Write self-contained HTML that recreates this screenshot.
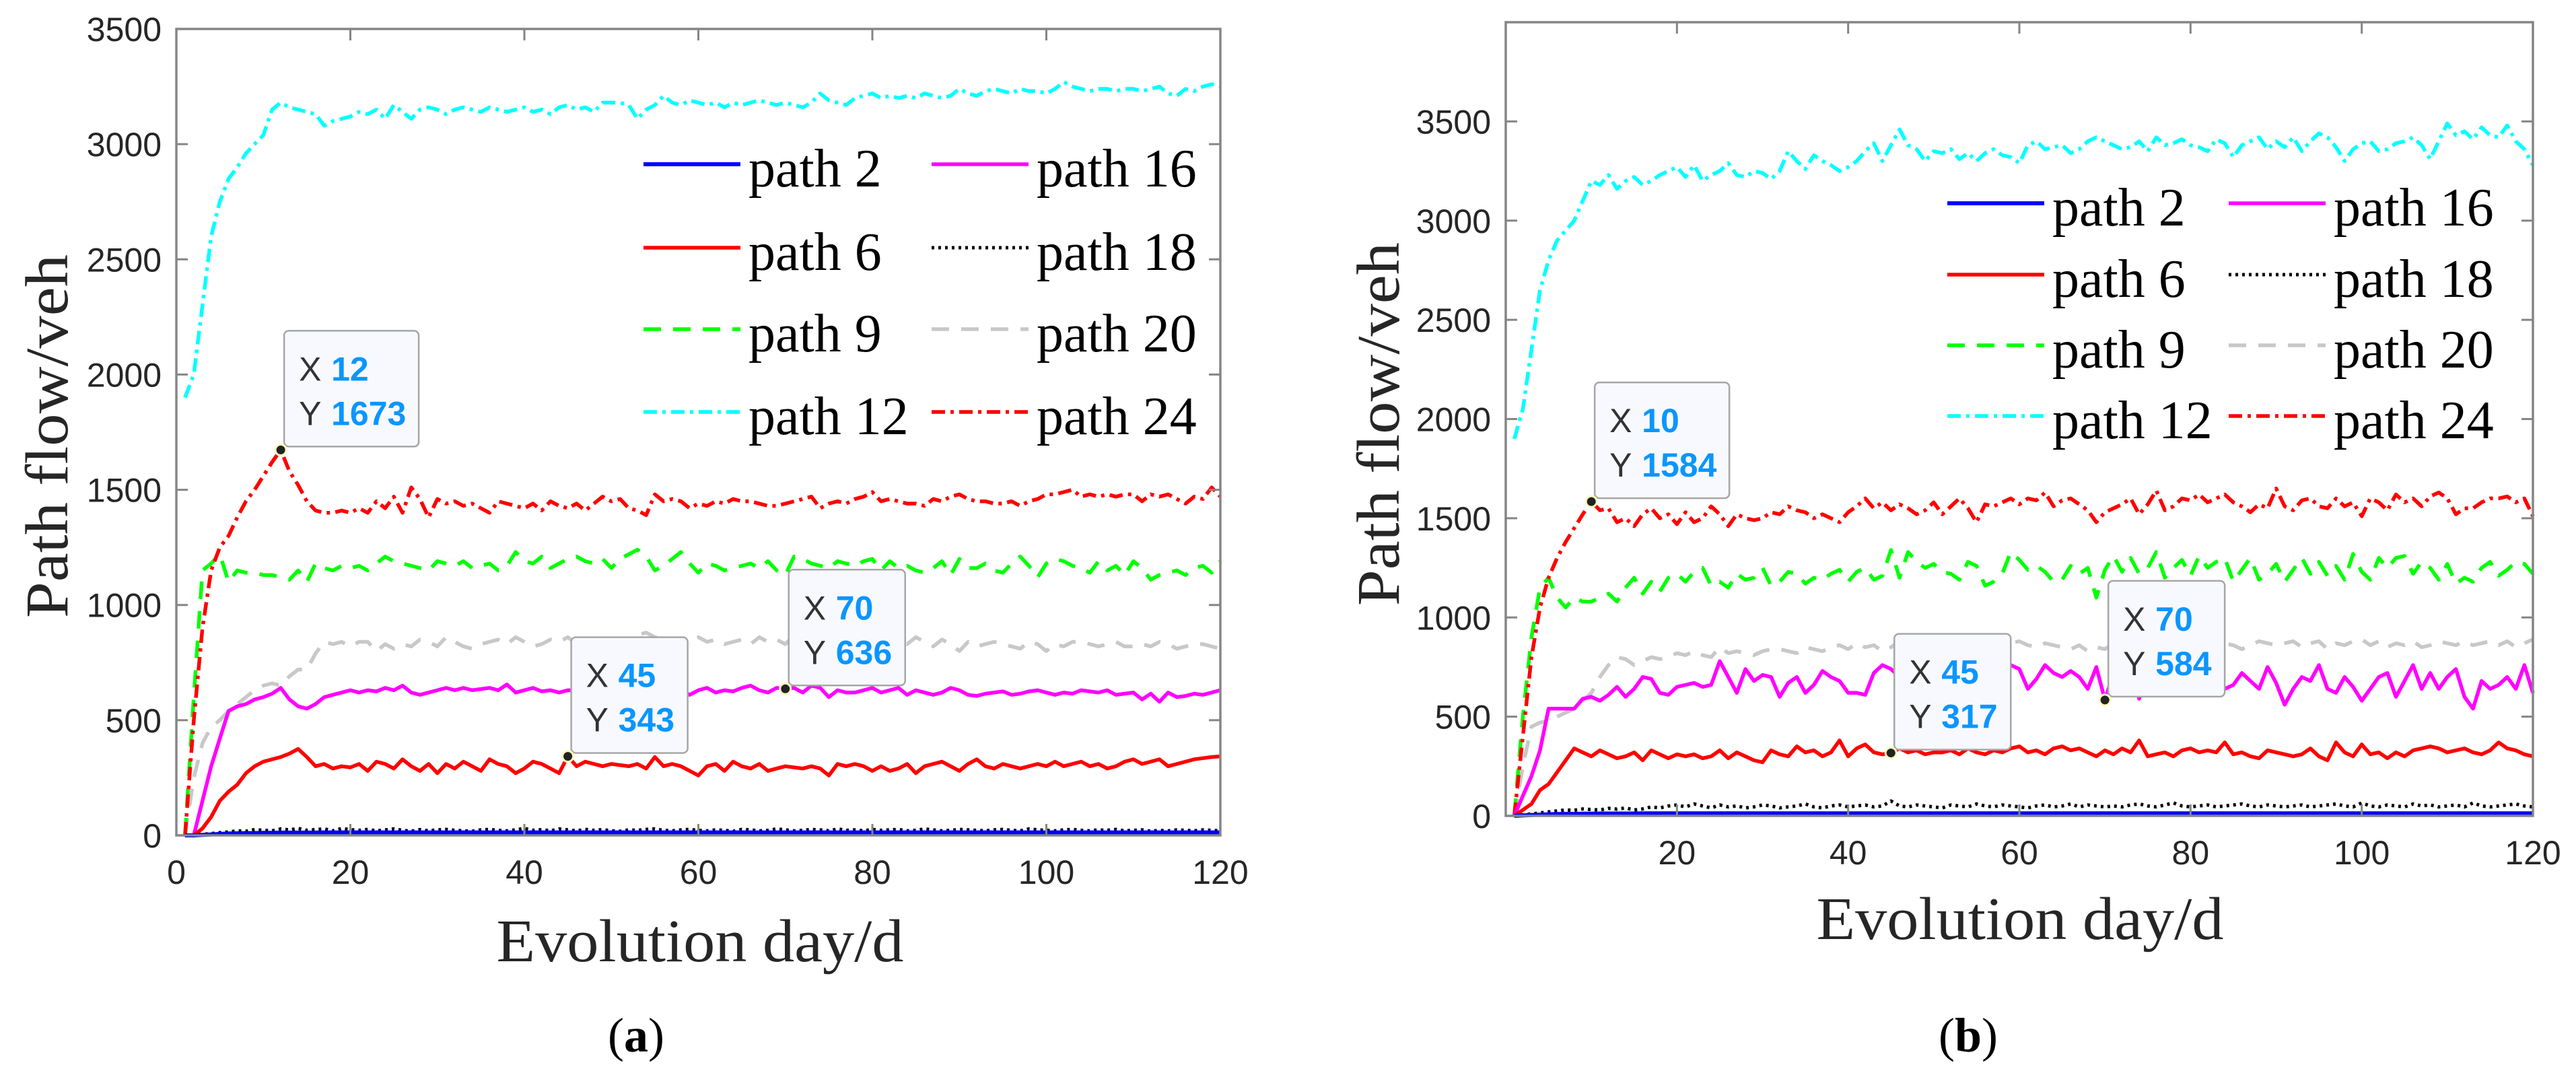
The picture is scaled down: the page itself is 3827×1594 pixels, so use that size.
<!DOCTYPE html>
<html><head><meta charset="utf-8">
<style>
html,body{margin:0;padding:0;background:#fff;}
svg{display:block;}
.tick{font-family:"Liberation Sans",sans-serif;font-size:50px;fill:#262626;}
.title{font-family:"Liberation Serif",serif;font-size:90px;fill:#262626;}
.leg{font-family:"Liberation Serif",serif;font-size:80px;fill:#000;}
.dtx{font-family:"Liberation Sans",sans-serif;font-size:50px;fill:#333;}
.dtv{font-family:"Liberation Sans",sans-serif;font-size:50px;font-weight:bold;fill:#0A96FF;}
.cap{font-family:"Liberation Serif",serif;font-size:72px;fill:#000;}
</style></head>
<body>
<svg id="fig" width="3827" height="1594" viewBox="0 0 3827 1594" xmlns="http://www.w3.org/2000/svg"></svg>
<script>
// ---------- data: chart (a) ----------
const daysCount = 120;
const xTicksA = [0,20,40,60,80,100,120];
const yTicksA = [0,500,1000,1500,2000,2500,3000,3500];
const xTicksB = [20,40,60,80,100,120];
const yTicksB = [0,500,1000,1500,2000,2500,3000,3500];
const seriesNames = ["path 2","path 6","path 9","path 12","path 16","path 18","path 20","path 24"];

const a_p12 = [1900,2000,2300,2600,2750,2850,2900,2960,3000,3040,3150,3180,3160,3150,3140,3130,3080,3100,3110,3120,
3140,3130,3150,3110,3170,3140,3110,3150,3160,3150,3130,3150,3160,3150,3140,3160,3150,3140,3150,3160,
3140,3150,3130,3160,3170,3150,3160,3140,3180,3180,3180,3170,3110,3150,3170,3210,3180,3170,3190,3180,
3170,3180,3160,3180,3170,3180,3190,3180,3170,3180,3170,3160,3180,3220,3190,3180,3170,3200,3210,3220,
3200,3210,3200,3210,3200,3220,3210,3200,3210,3240,3220,3210,3230,3240,3230,3220,3240,3230,3230,3220,
3240,3270,3250,3240,3230,3240,3240,3230,3240,3240,3230,3240,3250,3220,3210,3240,3230,3250,3260,3250];
const a_p24 = [0,500,900,1150,1250,1300,1380,1450,1500,1560,1620,1673,1580,1520,1450,1410,1400,1400,1410,1400,
1420,1400,1450,1420,1470,1400,1510,1460,1380,1460,1440,1450,1430,1440,1420,1400,1450,1440,1430,1420,
1440,1410,1450,1430,1420,1440,1410,1440,1470,1450,1460,1420,1410,1390,1480,1450,1460,1450,1420,1440,
1430,1450,1440,1460,1450,1450,1440,1430,1430,1440,1450,1460,1470,1420,1440,1450,1440,1460,1470,1490,
1450,1460,1450,1440,1440,1430,1460,1450,1470,1480,1460,1450,1450,1440,1440,1450,1430,1450,1460,1480,
1480,1490,1500,1470,1480,1470,1480,1470,1480,1480,1450,1480,1470,1480,1460,1440,1470,1460,1510,1470];
const a_p9 = [0,600,1150,1180,1220,1100,1150,1140,1140,1130,1130,1120,1110,1150,1100,1180,1160,1150,1170,1160,
1170,1150,1180,1210,1190,1180,1170,1160,1150,1190,1180,1170,1190,1160,1170,1180,1150,1170,1230,1190,
1180,1210,1160,1180,1200,1210,1190,1180,1200,1160,1200,1220,1240,1210,1150,1170,1200,1230,1180,1140,
1180,1170,1150,1160,1170,1180,1160,1190,1150,1130,1210,1200,1180,1170,1160,1190,1180,1170,1190,1200,
1150,1190,1160,1170,1150,1140,1160,1190,1130,1200,1160,1160,1180,1150,1140,1180,1210,1170,1120,1180,
1200,1190,1170,1160,1140,1190,1150,1170,1130,1190,1160,1110,1130,1140,1150,1130,1160,1170,1140,1190];
const a_p20 = [0,250,400,470,500,540,570,600,630,650,660,650,690,720,720,790,840,830,840,820,
840,840,800,830,810,830,820,850,840,820,860,840,820,810,830,840,850,830,860,840,
820,830,850,840,860,830,850,840,830,820,850,840,870,880,860,850,840,830,850,860,
840,850,830,840,850,830,860,840,850,830,870,860,840,850,840,860,830,870,840,850,
850,860,840,830,860,840,820,850,830,800,840,820,830,840,830,820,810,840,830,800,
830,820,840,840,830,820,830,840,820,820,830,820,840,830,810,820,830,830,820,810];
const a_p16 = [0,0,150,300,420,540,560,570,590,600,615,640,590,560,550,570,600,610,620,630,
620,630,625,640,630,650,620,610,620,630,640,630,640,630,635,640,630,655,620,630,
640,625,630,620,630,630,640,610,620,630,640,620,630,640,630,620,640,630,610,630,
640,620,630,625,640,650,630,620,640,636,640,620,650,640,600,630,620,620,630,640,
620,630,640,610,630,620,610,620,640,630,610,605,615,620,625,610,615,625,630,620,
610,620,615,630,625,620,630,610,615,620,590,615,580,620,600,605,615,610,620,630];
const a_p6 = [0,0,30,80,150,190,220,270,300,320,330,340,355,375,340,300,310,290,300,295,
310,280,320,310,290,330,300,280,310,270,310,290,320,300,280,330,310,300,270,290,
320,310,290,270,343,300,320,310,300,310,305,300,310,290,340,300,310,300,280,260,
300,310,280,320,300,290,310,280,290,300,295,290,300,290,260,310,300,310,300,280,
300,280,290,310,270,300,310,320,300,280,310,330,300,290,310,300,290,300,310,300,
320,300,310,320,300,310,290,300,320,330,310,320,330,300,310,320,330,335,340,343];
const a_p18 = [0,0,5,8,12,15,20,18,25,22,20,28,24,30,22,25,28,20,30,25,
22,26,20,24,28,22,18,25,20,24,26,22,20,18,24,26,22,20,24,30,
22,25,20,28,24,20,26,22,25,20,18,24,22,26,28,22,20,24,26,22,
20,24,22,18,26,24,20,22,28,24,20,22,26,24,20,28,22,24,20,26,
22,24,26,20,22,28,24,20,22,26,24,22,20,24,26,22,20,28,24,22,
20,24,26,22,20,24,22,26,20,22,24,18,22,20,24,22,20,24,22,20];
const a_p2 = [0,0,2,4,6,8,9,10,10,11,11,12,12,12,12,12,13,13,13,13,
13,13,13,13,13,13,13,13,13,13,13,13,13,13,13,13,13,13,13,13,
13,13,13,13,13,13,13,13,13,13,13,13,13,13,13,13,13,13,13,13,
13,13,13,13,13,13,13,13,13,13,13,13,13,13,13,13,13,13,13,13,
13,13,13,13,13,13,13,13,13,13,13,13,13,13,13,13,13,13,13,13,
13,13,13,13,13,13,13,13,13,13,13,13,13,13,13,13,13,13,13,13];

// ---------- data: chart (b) ----------
const b_p12 = [1900,2050,2350,2650,2800,2900,2950,3000,3100,3200,3180,3230,3160,3200,3220,3180,3200,3230,3250,3270,
3220,3280,3200,3230,3250,3290,3230,3220,3250,3240,3210,3250,3350,3300,3260,3330,3300,3280,3250,3270,
3300,3350,3390,3300,3380,3460,3380,3360,3300,3350,3340,3360,3310,3340,3300,3340,3360,3330,3320,3290,
3380,3400,3360,3370,3380,3340,3360,3400,3420,3400,3380,3360,3370,3400,3350,3420,3380,3390,3410,3380,
3370,3350,3410,3390,3320,3380,3400,3420,3360,3400,3370,3420,3350,3400,3440,3420,3370,3300,3360,3390,
3400,3350,3360,3390,3400,3420,3380,3310,3400,3490,3430,3450,3410,3470,3430,3420,3480,3400,3360,3280];
const b_p24 = [0,400,800,1050,1200,1300,1380,1450,1520,1584,1540,1550,1480,1500,1460,1520,1550,1500,1520,1470,
1530,1480,1500,1560,1520,1460,1520,1500,1490,1500,1530,1520,1560,1540,1530,1500,1520,1500,1480,1530,
1560,1600,1550,1580,1540,1570,1550,1520,1540,1580,1520,1560,1600,1550,1480,1570,1560,1580,1600,1570,
1600,1590,1630,1560,1590,1600,1570,1540,1480,1530,1550,1570,1600,1520,1570,1640,1540,1560,1600,1590,
1620,1580,1600,1620,1580,1560,1530,1570,1550,1650,1560,1540,1590,1600,1560,1550,1600,1560,1580,1510,
1600,1580,1540,1620,1580,1600,1560,1610,1630,1600,1520,1550,1550,1580,1600,1600,1610,1580,1600,1510];
const b_p9 = [0,500,900,1150,1200,1100,1050,1100,1080,1080,1100,1120,1080,1150,1200,1120,1180,1130,1200,1220,
1180,1230,1250,1160,1180,1150,1220,1190,1200,1250,1160,1180,1230,1220,1170,1200,1190,1220,1240,1180,
1230,1250,1190,1210,1340,1200,1330,1280,1250,1270,1230,1220,1190,1280,1260,1160,1180,1220,1330,1290,
1240,1260,1230,1180,1190,1260,1220,1250,1100,1240,1310,1230,1300,1220,1250,1330,1200,1250,1290,1210,
1310,1250,1280,1300,1180,1240,1300,1190,1220,1270,1180,1240,1300,1220,1280,1210,1260,1190,1320,1230,
1190,1300,1250,1300,1310,1220,1280,1250,1190,1270,1170,1200,1180,1250,1280,1210,1240,1280,1270,1220];
const b_p20 = [0,250,450,470,480,500,520,540,580,620,700,760,800,790,760,780,800,790,800,820,
810,830,810,800,850,820,830,820,810,830,840,840,830,820,850,840,830,850,860,840,
870,850,860,830,850,880,840,860,850,820,850,870,840,830,860,850,870,830,870,880,
860,850,870,860,850,840,860,830,850,840,870,860,880,850,870,850,860,880,840,870,
860,850,830,870,860,840,860,880,870,860,870,880,850,870,880,840,870,860,880,890,
860,880,850,870,860,880,850,860,880,870,860,880,860,870,880,860,880,850,870,890];
const b_p16 = [0,100,200,330,540,540,540,540,590,600,580,610,650,600,640,700,690,620,610,650,
660,670,650,660,780,700,620,740,680,710,700,600,670,700,620,660,730,700,680,620,
620,610,720,760,740,700,650,720,650,700,710,690,740,630,780,720,640,700,760,740,
640,690,760,720,700,730,700,640,750,584,720,700,760,590,720,640,720,680,700,760,
720,700,730,640,660,720,680,640,750,670,560,640,700,680,760,640,620,700,650,580,
640,700,720,600,680,760,640,720,640,700,740,600,540,680,640,660,700,640,760,620];
const b_p6 = [0,30,60,130,160,220,280,340,320,300,330,310,290,300,320,280,330,310,290,310,
300,310,290,300,330,290,320,300,280,270,330,310,300,350,320,330,300,320,380,300,
340,360,320,310,317,340,320,330,310,320,320,330,310,340,320,310,330,320,340,350,
320,330,310,340,350,330,340,320,300,330,310,340,320,380,300,310,320,300,330,340,
320,330,320,370,310,320,300,290,330,320,310,300,310,340,300,280,370,320,300,360,
310,320,290,320,300,330,340,350,340,320,330,340,320,310,330,370,340,330,310,300];
const b_p18 = [0,5,10,15,20,25,30,28,35,32,30,38,34,40,30,35,45,40,50,55,
45,60,50,40,55,45,50,40,45,55,50,40,45,50,60,45,40,50,55,45,
50,55,45,50,75,50,45,55,50,45,40,55,50,45,60,50,45,55,50,45,
40,50,55,45,50,60,45,55,50,45,50,45,55,60,50,45,55,65,50,45,
50,55,45,50,55,60,50,45,55,50,45,50,55,45,50,55,60,50,45,65,
50,45,55,50,45,60,50,55,45,50,55,45,65,50,45,50,55,60,50,45];
const b_p2 = [0,2,4,6,8,9,10,10,11,11,12,12,12,12,12,13,13,13,13,13,
13,13,13,13,13,13,13,13,13,13,13,13,13,13,13,13,13,13,13,13,
13,13,13,13,13,13,13,13,13,13,13,13,13,13,13,13,13,13,13,13,
13,13,13,13,13,13,13,13,13,13,13,13,13,13,13,13,13,13,13,13,
13,13,13,13,13,13,13,13,13,13,13,13,13,13,13,13,13,13,13,13,
13,13,13,13,13,13,13,13,13,13,13,13,13,13,13,13,13,13,13,13];

// datatips: [series key, day]
const tipsA = [["p24",12],["p6",45],["p16",70]];
const tipsB = [["p24",10],["p6",45],["p16",70]];

// ---------- rendering ----------
const NS = "http://www.w3.org/2000/svg";
const svg = document.getElementById("fig");
function mk(tag, attrs, parent){
  const e = document.createElementNS(NS, tag);
  for (const k in attrs) e.setAttribute(k, attrs[k]);
  (parent||svg).appendChild(e);
  return e;
}
const styles = {
  p2:{color:"#0000FF",dash:"",w:6},
  p6:{color:"#FF0000",dash:"",w:5.5},
  p9:{color:"#00FF00",dash:"26,18",w:5.5},
  p12:{color:"#00FFFF",dash:"20,8,5,8",w:5.5},
  p16:{color:"#FF00FF",dash:"",w:5.5},
  p18:{color:"#000000",dash:"4,6",w:5},
  p20:{color:"#C8C8C8",dash:"26,18",w:5.5},
  p24:{color:"#FF0000",dash:"20,8,5,8",w:5.5}
};
const drawOrder = ["p20","p9","p12","p24","p16","p6","p18","p2"];

function chart(cfg){
  const g = mk("g",{});
  
  
  const xs = v => cfg.x0 + (v - cfg.xmin) / (cfg.xmax - cfg.xmin) * (cfg.x1 - cfg.x0);
  const ys = v => cfg.y0 - (v - cfg.ymin) / (cfg.ymax - cfg.ymin) * (cfg.y0 - cfg.y1);
  for (const key of drawOrder){
    const d = cfg.data[key];
    let pts = d.map((v,i)=> xs(i+1).toFixed(1)+","+ys(v).toFixed(1)).join(" ");
    const st = styles[key];
    const pl = mk("polyline",{points:pts,fill:"none",stroke:st.color,"stroke-width":st.w,"stroke-dasharray":st.dash,"stroke-linejoin":"round"},g);
    
    
  }
  const box = mk("rect",{x:cfg.x0,y:cfg.y1,width:cfg.x1-cfg.x0,height:cfg.y0-cfg.y1,fill:"none",stroke:"#858585","stroke-width":3.5},g);
  
  
  for (const t of cfg.xticks){
    const x = xs(t);
    mk("line",{x1:x,x2:x,y1:cfg.y0,y2:cfg.y0-17,stroke:"#858585","stroke-width":3},g);
    mk("line",{x1:x,x2:x,y1:cfg.y1,y2:cfg.y1+17,stroke:"#858585","stroke-width":3},g);
    const tx = mk("text",{x:x,y:cfg.y0+72,"text-anchor":"middle",class:"tick"},g);
    tx.textContent = t;
    
    
  }
  for (const t of cfg.yticks){
    const y = ys(t);
    mk("line",{x1:cfg.x0,x2:cfg.x0+17,y1:y,y2:y,stroke:"#858585","stroke-width":3},g);
    mk("line",{x1:cfg.x1,x2:cfg.x1-17,y1:y,y2:y,stroke:"#858585","stroke-width":3},g);
    const ty = mk("text",{x:cfg.x0-22,y:y+18,"text-anchor":"end",class:"tick"},g);
    ty.textContent = t;
    
    
  }
  const yt = mk("text",{x:0,y:0,"text-anchor":"middle",class:"title",transform:"translate("+cfg.ytX+","+cfg.ytY+") rotate(-90)",textLength:540,lengthAdjust:"spacingAndGlyphs"},g);
  yt.textContent = "Path flow/veh";
  
  
  const xt = mk("text",{x:cfg.xtX,y:cfg.xtY,"text-anchor":"middle",class:"title",textLength:605,lengthAdjust:"spacingAndGlyphs"},g);
  xt.textContent = "Evolution day/d";
  
  
  const cp = mk("text",{x:cfg.capX,y:1562,"text-anchor":"middle",class:"cap"},g);
  cp.innerHTML = '(<tspan font-weight="bold">'+cfg.cap+'</tspan>)';
  
  
  const legCols = [["p2","p6","p9","p12"],["p16","p18","p20","p24"]];
  legCols.forEach((col,ci)=>{
    col.forEach((key,ri)=>{
      const ly = cfg.legY[ri];
      const lx = cfg.legX[ci];
      const st = styles[key];
      const lg = mk("g",{},g);
      
      
      mk("line",{x1:lx,x2:lx+144,y1:ly,y2:ly,stroke:st.color,"stroke-width":st.w,"stroke-dasharray":st.dash},lg);
      const lt = mk("text",{x:lx+156,y:ly+33,class:"leg"},lg);
      lt.textContent = seriesNames[["p2","p6","p9","p12","p16","p18","p20","p24"].indexOf(key)];
    });
  });
  for (const [key,day] of cfg.tips){
    const val = cfg.data[key][day-1];
    const px = xs(day), py = ys(val);
    const tg = mk("g",{},g);
    
    
    const w = String(val).length >= 4 ? 200 : 173;
    const bx = px + 5, by = py - 5 - 172;
    mk("rect",{x:bx,y:by,width:w,height:172,rx:7,fill:"#F8F9FF",stroke:"#A6A6A6","stroke-width":2.5},tg);
    const t1 = mk("text",{x:bx+22,y:by+74,class:"dtx"},tg); t1.textContent="X";
    const v1 = mk("text",{x:bx+70,y:by+74,class:"dtv"},tg); v1.textContent=day;
    const t2 = mk("text",{x:bx+22,y:by+140,class:"dtx"},tg); t2.textContent="Y";
    const v2 = mk("text",{x:bx+70,y:by+140,class:"dtv"},tg); v2.textContent=val;
    mk("circle",{cx:px,cy:py,r:8,fill:"#222",stroke:"#FFF8C0","stroke-width":3},tg);
  }
}

chart({name:"chart-a", x0:262,x1:1813,y0:1241,y1:43,xmin:0,xmax:120,ymin:0,ymax:3500,
  xticks:xTicksA, yticks:yTicksA,
  data:{p2:a_p2,p6:a_p6,p9:a_p9,p12:a_p12,p16:a_p16,p18:a_p18,p20:a_p20,p24:a_p24},
  tips:tipsA, ytX:100, ytY:648, xtX:1040, xtY:1428, capX:945, cap:"a",
  legX:[956,1384], legY:[244,368,489,612]});
chart({name:"chart-b", x0:2237,x1:3763,y0:1212,y1:33,xmin:0,xmax:120,ymin:0,ymax:4000,
  xticks:xTicksB, yticks:yTicksB,
  data:{p2:b_p2,p6:b_p6,p9:b_p9,p12:b_p12,p16:b_p16,p18:b_p18,p20:b_p20,p24:b_p24},
  tips:tipsB, ytX:2078, ytY:630, xtX:3001, xtY:1395, capX:2924, cap:"b",
  legX:[2893,3311], legY:[302,408,513,618]});
</script>
</body></html>
